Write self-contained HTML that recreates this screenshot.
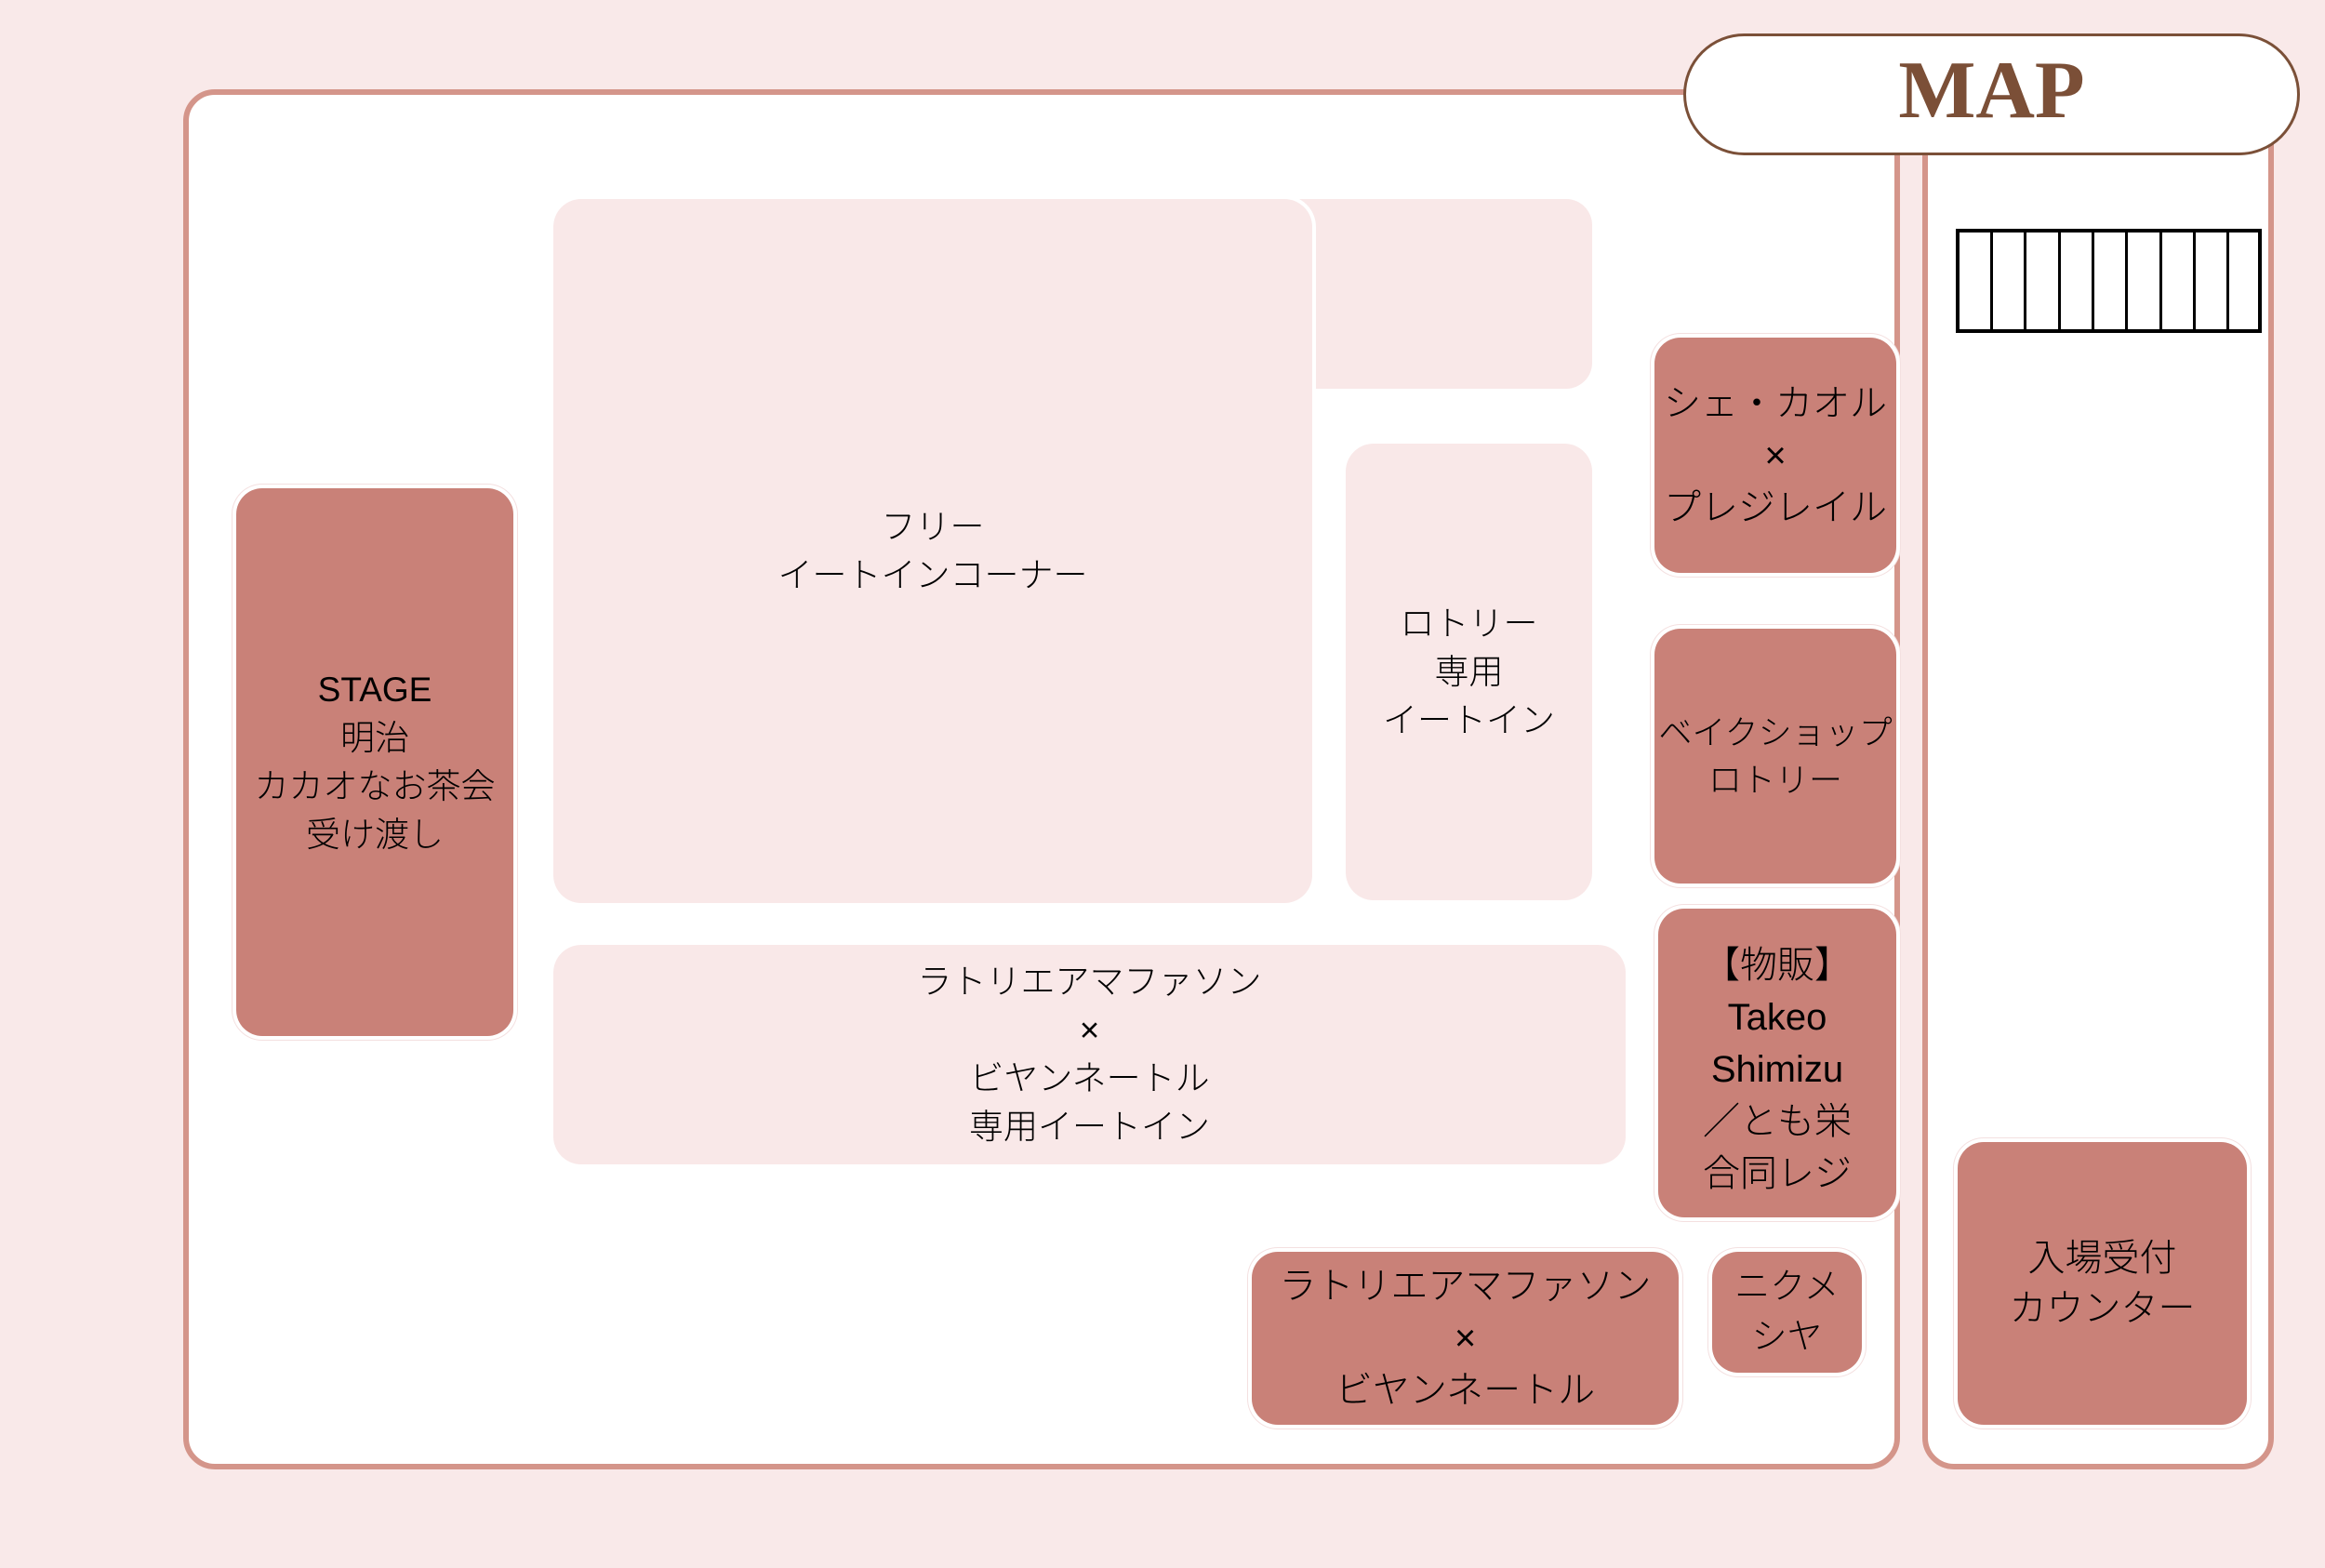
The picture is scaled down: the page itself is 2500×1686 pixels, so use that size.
<!DOCTYPE html>
<html>
<head>
<meta charset="utf-8">
<style>
html,body{margin:0;padding:0;}
body{width:2500px;height:1686px;background:#f9e9e9;position:relative;overflow:hidden;
font-family:"Liberation Sans","Noto Sans CJK JP",sans-serif;}
.abs{position:absolute;box-sizing:border-box;}
.frame{border:6px solid #d4958a;background:#fff;border-radius:34px;}
.box{display:flex;align-items:center;justify-content:center;text-align:center;
white-space:nowrap;color:#000;font-weight:300;}
.pink{background:#f9e8e8;border-radius:30px;font-size:37px;line-height:52px;box-shadow:0 0 0 4px #fff;}
.dark{background:#c98178;border-radius:28px;font-size:40px;line-height:56px;box-shadow:0 0 0 4px #fff,0 0 0 5px #f4e0e0;}
.grid{border:4px solid #000;background:#fff;}
.vl{position:absolute;top:0;bottom:0;width:3px;background:#000;}
</style>
</head>
<body>
<!-- main frame -->
<div class="abs frame" style="left:197px;top:96px;width:1846px;height:1484px;"></div>
<!-- right frame -->
<div class="abs frame" style="left:2067px;top:96px;width:378px;height:1484px;"></div>

<!-- grid (stairs) -->
<div class="abs grid" style="left:2103px;top:246px;width:329px;height:112px;">
  <div class="vl" style="left:33px"></div>
  <div class="vl" style="left:69px"></div>
  <div class="vl" style="left:106px"></div>
  <div class="vl" style="left:142px"></div>
  <div class="vl" style="left:178px"></div>
  <div class="vl" style="left:215px"></div>
  <div class="vl" style="left:251px"></div>
  <div class="vl" style="left:287px"></div>
</div>

<!-- small top pink box (behind フリー) -->
<div class="abs" style="left:1380px;top:214px;width:332px;height:204px;background:#f9e8e8;border-radius:0 28px 28px 0;"></div>

<!-- フリー -->
<div class="abs box pink" style="left:595px;top:214px;width:816px;height:757px;">フリー<br>イートインコーナー</div>

<!-- ロトリー専用 -->
<div class="abs box pink" style="left:1447px;top:477px;width:265px;height:491px;">ロトリー<br>専用<br>イートイン</div>

<!-- ラトリエ pink -->
<div class="abs box pink" style="left:595px;top:1016px;width:1153px;height:236px;">ラトリエアマファソン<br>×<br>ビヤンネートル<br>専用イートイン</div>

<!-- STAGE -->
<div class="abs box dark" style="left:254px;top:525px;width:298px;height:589px;font-size:37px;line-height:52px;">STAGE<br>明治<br>カカオなお茶会<br>受け渡し</div>

<!-- シェ・カオル -->
<div class="abs box dark" style="left:1779px;top:363px;width:260px;height:253px;">シェ・カオル<br>×<br>プレジレイル</div>

<!-- ベイクショップ -->
<div class="abs box dark" style="left:1779px;top:676px;width:260px;height:274px;font-size:36px;line-height:51px;">ベイクショップ<br>ロトリー</div>

<!-- 物販 -->
<div class="abs box dark" style="left:1783px;top:977px;width:256px;height:332px;padding-top:14px;">【物販】<br>Takeo<br>Shimizu<br>／とも栄<br>合同レジ</div>

<!-- ニクメシヤ -->
<div class="abs box dark" style="left:1841px;top:1346px;width:161px;height:130px;font-size:38px;line-height:54px;">ニクメ<br>シヤ</div>

<!-- ラトリエ dark -->
<div class="abs box dark" style="left:1346px;top:1346px;width:459px;height:186px;">ラトリエアマファソン<br>×<br>ビヤンネートル</div>

<!-- 入場受付 -->
<div class="abs box dark" style="left:2105px;top:1228px;width:311px;height:304px;line-height:54px;">入場受付<br>カウンター</div>

<!-- MAP pill -->
<div class="abs" style="left:1810px;top:36px;width:663px;height:131px;border:3px solid #7b5038;border-radius:66px;background:#fff;"></div>
<div class="abs" style="left:1810px;top:54px;width:663px;height:88px;text-align:center;font-family:'Liberation Serif',serif;font-weight:bold;font-size:88px;line-height:88px;color:#7b4f37;">MAP</div>
</body>
</html>
